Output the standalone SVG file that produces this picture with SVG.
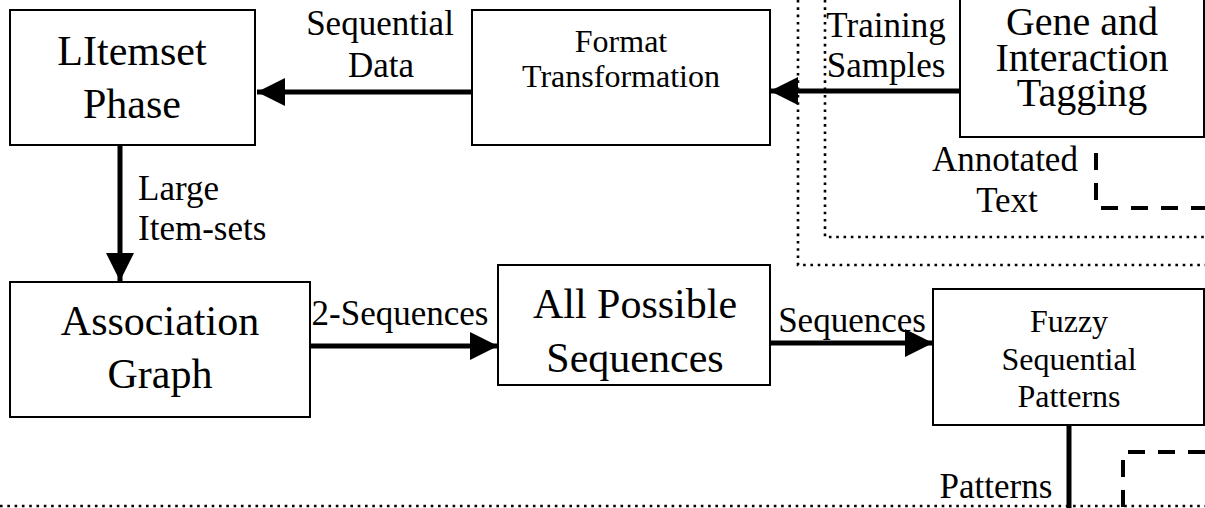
<svg xmlns="http://www.w3.org/2000/svg" width="1205" height="508" viewBox="0 0 1205 508">
<style>
.box{fill:#fff;stroke:#000;stroke-width:2}
text{font-family:'Liberation Serif',serif;fill:#000;text-anchor:middle}
.big{font-size:42px}
.gene{font-size:40px}
.mid{font-size:32px}
.lbl{font-size:35px}
.conn{stroke:#000;stroke-width:5;fill:none}
.dot{stroke:#000;stroke-width:2.6;fill:none;stroke-dasharray:2.6 4.7}
.dash{stroke:#000;stroke-width:4;fill:none;stroke-dasharray:17 13}
</style>
<defs>
<marker id="ah" markerUnits="userSpaceOnUse" markerWidth="28" markerHeight="28" refX="28" refY="14" orient="auto" viewBox="0 0 28 28">
<path d="M0,0 L28,14 L0,28 z" fill="#000"/>
</marker>
</defs>
<rect width="1205" height="508" fill="#fff"/>
<g id="boundaries">
<path class="dot" d="M798,0 V265 H1205"/>
<path class="dot" d="M825,0 V237 H1205"/>
<path class="dot" d="M0,506 H1205"/>
<path class="dash" d="M1096,153 V208 H1205"/>
<path class="dash" d="M1205,452 H1123 V508"/>
</g>
<g id="litemset">
<rect class="box" x="10" y="10" width="245" height="135"/>
<text class="big" x="132" y="65" font-family="Liberation Serif">LItemset</text>
<text class="big" x="132" y="118" font-family="Liberation Serif">Phase</text>
</g>
<g id="format">
<rect class="box" x="472" y="10" width="298" height="135"/>
<text class="mid" x="621" y="52">Format</text>
<text class="mid" x="621" y="87">Transformation</text>
</g>
<g id="gene">
<rect class="box" x="960" y="-5" width="244" height="142"/>
<text class="gene" x="1082" y="35">Gene and</text>
<text class="gene" x="1082" y="71">Interaction</text>
<text class="gene" x="1082" y="106">Tagging</text>
</g>
<g id="association">
<rect class="box" x="10" y="282" width="300" height="135"/>
<text class="big" x="160" y="335">Association</text>
<text class="big" x="160" y="388">Graph</text>
</g>
<g id="allpossible">
<rect class="box" x="498" y="265" width="272" height="120"/>
<text class="big" x="635" y="318">All Possible</text>
<text class="big" x="635" y="372">Sequences</text>
</g>
<g id="fuzzy">
<rect class="box" x="933" y="289" width="271" height="136"/>
<text class="mid" x="1069" y="332">Fuzzy</text>
<text class="mid" x="1069" y="370">Sequential</text>
<text class="mid" x="1069" y="407">Patterns</text>
</g>
<g id="connectors">
<line class="conn" x1="472" y1="92" x2="257" y2="92" marker-end="url(#ah)"/>
<line class="conn" x1="960" y1="91" x2="770" y2="91" marker-end="url(#ah)"/>
<line class="conn" x1="120" y1="145" x2="120" y2="281" marker-end="url(#ah)"/>
<line class="conn" x1="310" y1="346" x2="498" y2="346" marker-end="url(#ah)"/>
<line class="conn" x1="770" y1="343" x2="933" y2="343" marker-end="url(#ah)"/>
<line class="conn" x1="1069" y1="425" x2="1069" y2="508"/>
</g>
<g id="labels">
<text class="lbl" x="380" y="35">Sequential</text>
<text class="lbl" x="381" y="77">Data</text>
<text class="lbl" x="886" y="37">Training</text>
<text class="lbl" x="886" y="77">Samples</text>
<text class="lbl" x="1005" y="171">Annotated</text>
<text class="lbl" x="1007" y="212">Text</text>
<text class="lbl" x="138" y="200" style="text-anchor:start">Large</text>
<text class="lbl" x="138" y="240" style="text-anchor:start">Item-sets</text>
<text class="lbl" x="400" y="325">2-Sequences</text>
<text class="lbl" x="852" y="332">Sequences</text>
<text class="lbl" x="996" y="498">Patterns</text>
</g>
</svg>
